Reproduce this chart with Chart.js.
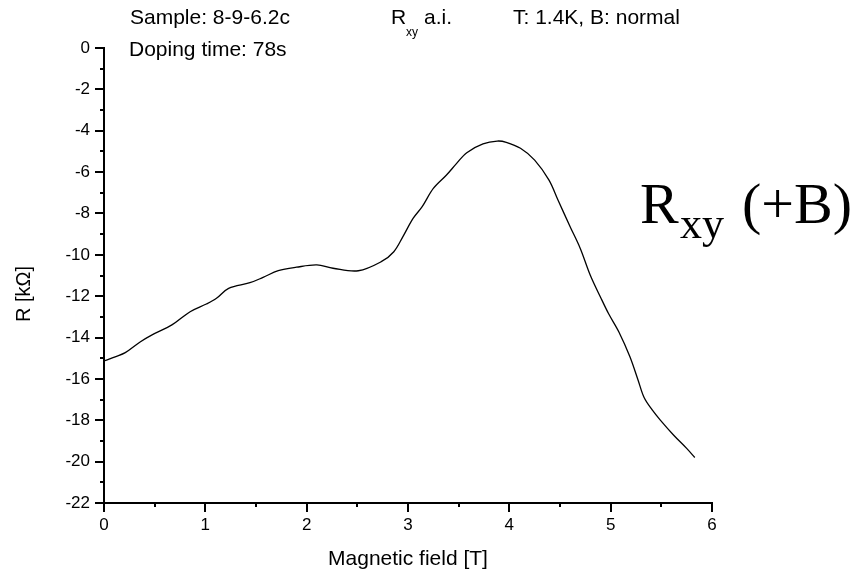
<!DOCTYPE html>
<html>
<head>
<meta charset="utf-8">
<script src="https://cdn.jsdelivr.net/npm/chart.js@4.4.0/dist/chart.umd.min.js"></script>
<style>
  html, body { margin: 0; padding: 0; background: #fff; }
  #chart-container { width: 863px; height: 574px; position: relative; }
</style>
</head>
<body>
<div id="chart-container"><canvas id="chart"></canvas></div>
<script>
// Magnetic field sweep [T] and Hall resistance R_xy [kOhm]
const fieldT = [0.01, 0.11, 0.21, 0.36, 0.47, 0.67, 0.85, 1.01, 1.11, 1.23, 1.44, 1.57, 1.72, 1.90, 2.10,
    2.26, 2.51, 2.74, 2.86, 2.95, 3.05, 3.14, 3.25, 3.38, 3.48, 3.58, 3.74, 3.88, 3.97, 4.11,
    4.25, 4.39, 4.48, 4.60, 4.70, 4.80, 4.90, 4.98, 5.08, 5.19, 5.27, 5.33, 5.41, 5.49, 5.62,
    5.75, 5.83];
const resistance = [-15.12, -14.93, -14.73, -14.20, -13.88, -13.39, -12.75, -12.38, -12.10, -11.62, -11.35, -11.09, -10.77, -10.60, -10.49,
    -10.65, -10.77, -10.32, -9.85, -9.12, -8.24, -7.67, -6.79, -6.14, -5.58, -5.06, -4.64, -4.50, -4.56, -4.85,
    -5.42, -6.38, -7.35, -8.64, -9.69, -11.00, -12.05, -12.85, -13.72, -14.93, -16.05, -16.90, -17.50, -17.99, -18.71,
    -19.36, -19.80];

const xTicks = [0, 1, 2, 3, 4, 5, 6];
const yTicks = [0, -2, -4, -6, -8, -10, -12, -14, -16, -18, -20, -22];

const sans = '"Liberation Sans", Arial, Helvetica, sans-serif';
const serif = '"Liberation Serif", "Times New Roman", serif';

// minor/major tick marks drawn outside the axes
const tickMarks = {
    id: 'tickMarks',
    afterDraw(chart) {
        const ctx = chart.ctx;
        const xs = chart.scales.x, ys = chart.scales.y;
        const area = chart.chartArea;
        ctx.save();
        ctx.strokeStyle = '#000';
        ctx.lineWidth = 2;
        ctx.beginPath();
        for (let v = xTicks[0]; v <= xTicks[xTicks.length - 1] + 1e-9; v += 0.5) {
            const px = Math.round(xs.getPixelForValue(v));
            const len = Math.abs(v - Math.round(v)) < 1e-6 ? 9 : 4;
            ctx.moveTo(px, area.bottom);
            ctx.lineTo(px, area.bottom + len);
        }
        for (let v = yTicks[yTicks.length - 1]; v <= yTicks[0] + 1e-9; v += 1) {
            const py = Math.round(ys.getPixelForValue(v));
            const len = v % 2 === 0 ? 9 : 4;
            ctx.moveTo(area.left, py);
            ctx.lineTo(area.left - len, py);
        }
        ctx.stroke();
        ctx.restore();
    }
};

// header texts, y title and the big label
const annotations = {
    id: 'annotations',
    afterDraw(chart) {
        const ctx = chart.ctx;
        ctx.save();
        ctx.fillStyle = '#000';
        ctx.textBaseline = 'alphabetic';
        ctx.textAlign = 'left';
        ctx.font = '21px ' + sans;
        ctx.fillText('Sample: 8-9-6.2c', 130, 24);
        ctx.fillText('Doping time: 78s', 129, 56);
        ctx.fillText('R', 391, 24);
        ctx.fillText('a.i.', 424, 24);
        ctx.fillText('T: 1.4K, B: normal', 513, 24);
        ctx.font = '12px ' + sans;
        ctx.fillText('xy', 406, 36);

        ctx.font = '58px ' + serif;
        ctx.fillText('R', 640, 223);
        ctx.fillText('(+B)', 742, 223);
        ctx.font = '44px ' + serif;
        ctx.fillText('xy', 680, 238);

        ctx.translate(24, 294);
        ctx.rotate(-Math.PI / 2);
        ctx.textAlign = 'center';
        ctx.textBaseline = 'middle';
        ctx.font = '20px ' + sans;
        ctx.fillText('R [k\u03A9]', 0, 0);
        ctx.restore();
    }
};

document.addEventListener('DOMContentLoaded', () => {
    const ctx = document.getElementById('chart');
    const points = fieldT.map((x, i) => ({ x: x, y: resistance[i] }));

    new Chart(ctx, {
        type: 'line',
        data: {
            datasets: [{
                data: points,
                borderColor: '#000',
                borderWidth: 1.3,
                pointRadius: 0,
                fill: false,
                tension: 0.35
            }]
        },
        options: {
            responsive: true,
            maintainAspectRatio: false,
            animation: false,
            layout: { padding: { top: 48, right: 151, left: 0, bottom: 0 } },
            plugins: {
                legend: { display: false },
                tooltip: { enabled: false }
            },
            scales: {
                x: {
                    type: 'linear',
                    min: 0,
                    max: 6,
                    afterFit: (s) => { s.height = 71; },
                    afterBuildTicks: (s) => { s.ticks = xTicks.map(v => ({ value: v })); },
                    border: { display: true, color: '#000', width: 2 },
                    grid: { display: true, drawOnChartArea: false, color: 'rgba(0,0,0,0)', tickLength: 9 },
                    ticks: { color: '#000', padding: 3, maxRotation: 0, font: { family: sans, size: 17 } },
                    title: {
                        display: true,
                        text: 'Magnetic field [T]',
                        color: '#000',
                        font: { family: sans, size: 21 },
                        padding: { top: 0, bottom: 2 }
                    }
                },
                y: {
                    type: 'linear',
                    min: -22,
                    max: 0,
                    afterFit: (s) => { s.width = 104; },
                    afterBuildTicks: (s) => { s.ticks = yTicks.map(v => ({ value: v })); },
                    border: { display: true, color: '#000', width: 2 },
                    grid: { display: true, drawOnChartArea: false, color: 'rgba(0,0,0,0)', tickLength: 9 },
                    ticks: { color: '#000', padding: 5, font: { family: sans, size: 17 } }
                }
            }
        },
        plugins: [tickMarks, annotations]
    });
});
</script>
</body>
</html>
